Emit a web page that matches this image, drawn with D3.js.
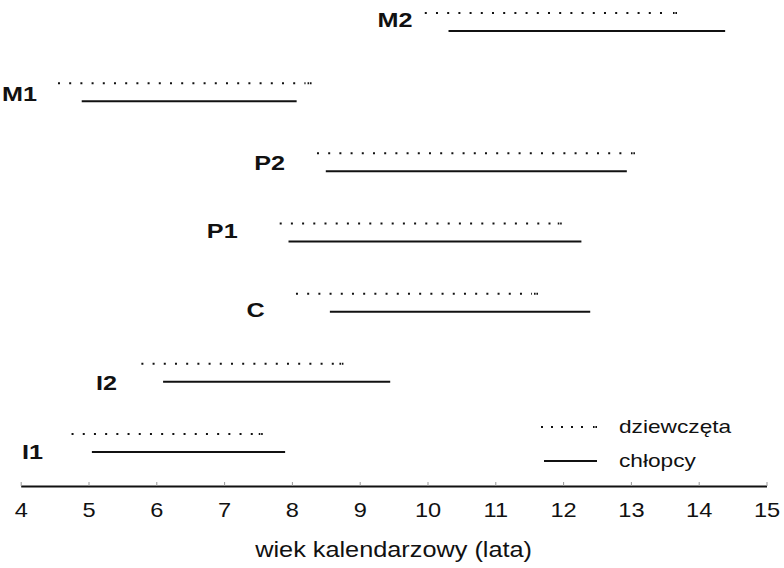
<!DOCTYPE html>
<html>
<head>
<meta charset="utf-8">
<script src="https://cdn.jsdelivr.net/npm/d3@7"></script>
<style>
  html, body { margin: 0; padding: 0; background: #fff; }
  svg { display: block; }
  text { font-family: "Liberation Sans", Arial, Helvetica, sans-serif; fill: #111; }
</style>
</head>
<body>
<svg id="chart" width="784" height="568"></svg>
<script>
// ---- data ----
const categories = ["M2", "M1", "P2", "P1", "C", "I2", "I1"];
const girlsStart = [9.96, 4.55, 8.37, 7.82, 8.06, 5.78, 4.75];
const girlsEnd   = [13.68, 8.29, 13.06, 11.98, 11.63, 8.76, 7.57];
const boysStart  = [10.31, 4.90, 8.50, 7.95, 8.56, 6.10, 5.05];
const boysEnd    = [14.39, 8.07, 12.94, 12.27, 12.40, 9.45, 7.90];
const labelAge   = [9.78, 4.24, 7.90, 7.20, 7.60, 5.42, 4.33]; // right edge of row label, in years
const xTicks     = [4, 5, 6, 7, 8, 9, 10, 11, 12, 13, 14, 15];
const seriesNames = ["dziewczęta", "chłopcy"];
const axisTitle = "wiek kalendarzowy (lata)";

// ---- layout ----
const svg = d3.select("#chart");
const x = d3.scaleLinear().domain([4, 15]).range([20.7, 766.5]);
const y = d3.scalePoint().domain(categories).range([22, 443]);
const axisY = 486;
const rowGap = 9;
const labelDy = [-3, 1.5, 0.5, -2.5, 6.5, 9.5, 8];
const stretch = 1.2;
const dotDash = "2 9.2";

const rows = categories.map((c, i) => ({
  c, i, gs: girlsStart[i], ge: girlsEnd[i], bs: boysStart[i], be: boysEnd[i], la: labelAge[i]
}));

// dotted (girls)
const gDot = svg.append("g");
gDot.selectAll("line.dot").data(rows).join("line").attr("class", "dot")
  .attr("x1", d => x(d.gs)).attr("x2", d => x(d.ge) - 6)
  .attr("y1", d => y(d.c) - rowGap).attr("y2", d => y(d.c) - rowGap)
  .attr("stroke", "#111").attr("stroke-width", 2)
  .attr("stroke-dasharray", dotDash);
// short double-dot end mark
gDot.selectAll("line.end").data(rows).join("line").attr("class", "end")
  .attr("x1", d => x(d.ge) - 4).attr("x2", d => x(d.ge))
  .attr("y1", d => y(d.c) - rowGap).attr("y2", d => y(d.c) - rowGap)
  .attr("stroke", "#111").attr("stroke-width", 2)
  .attr("stroke-dasharray", "1.6 0.8 1.6");

// solid (boys)
svg.append("g").selectAll("line").data(rows).join("line")
  .attr("x1", d => x(d.bs)).attr("x2", d => x(d.be))
  .attr("y1", d => y(d.c) + rowGap).attr("y2", d => y(d.c) + rowGap)
  .attr("stroke", "#111").attr("stroke-width", 2);

// row labels
svg.append("g").selectAll("text").data(rows).join("text")
  .attr("transform", d => `translate(${x(d.la)},${y(d.c) + labelDy[d.i]}) scale(${stretch},1)`)
  .attr("text-anchor", "end").attr("dy", "0.36em")
  .style("font-size", "21px").style("font-weight", "bold")
  .text(d => d.c);

// axis
const axis = d3.axisBottom(x).tickValues(xTicks).tickSizeInner(-4).tickSizeOuter(0).tickPadding(17)
  .tickFormat(d3.format("d"));
const gx = svg.append("g").attr("transform", `translate(0,${axisY})`).call(axis);
gx.select(".domain").attr("stroke", "#111").attr("stroke-width", 2);
gx.selectAll(".tick line").attr("stroke", "#999").attr("stroke-width", 1);
gx.selectAll(".tick text").style("font-size", "20px").attr("fill", "#111")
  .attr("font-family", null)
  .attr("transform", "scale(1.18,1)");

// axis title
svg.append("text")
  .attr("transform", `translate(${(x(4) + x(15)) / 2},557) scale(1.15,1)`)
  .attr("text-anchor", "middle")
  .style("font-size", "22px")
  .text(axisTitle);

// legend
const lg = svg.append("g");
const legY = [427, 461];
lg.append("line").attr("x1", 541).attr("x2", 591).attr("y1", legY[0]).attr("y2", legY[0])
  .attr("stroke", "#111").attr("stroke-width", 2).attr("stroke-dasharray", "2 8");
lg.append("line").attr("x1", 593).attr("x2", 597).attr("y1", legY[0]).attr("y2", legY[0])
  .attr("stroke", "#111").attr("stroke-width", 2).attr("stroke-dasharray", "1.6 0.8 1.6");
lg.append("line").attr("x1", 544).attr("x2", 597).attr("y1", legY[1]).attr("y2", legY[1])
  .attr("stroke", "#111").attr("stroke-width", 2);
lg.selectAll("text").data(seriesNames).join("text")
  .attr("transform", (d, i) => `translate(619,${legY[i]}) scale(1.26,1)`)
  .attr("dy", "0.35em")
  .style("font-size", "18px")
  .text(d => d);
</script>
</body>
</html>
